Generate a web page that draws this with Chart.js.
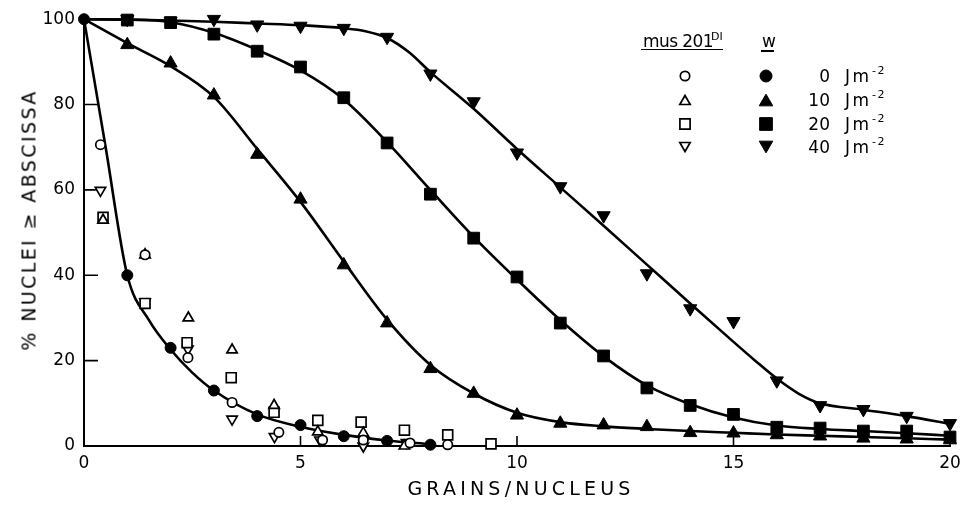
<!DOCTYPE html>
<html>
<head>
<meta charset="utf-8">
<script src="https://cdn.jsdelivr.net/npm/chart.js@4.4.1/dist/chart.umd.min.js"></script>
<style>
html,body{margin:0;padding:0;background:#fff;}
#wrap{position:relative;width:970px;height:505px;overflow:hidden;font-family:"DejaVu Sans",sans-serif;color:#000;}
#c{position:absolute;left:0;top:0;}
.t{position:absolute;white-space:nowrap;line-height:1;}
.ul{position:absolute;background:#000;height:1.6px;}
</style>
</head>
<body>
<div id="wrap">
  <canvas id="c" width="970" height="505"></canvas>
  <div class="t" id="ytitle" style="left:29px;top:220px;font-size:19px;letter-spacing:2.4px;transform:translate(-50%,-50%) rotate(-90deg);">% NUCLEI ≥ ABSCISSA</div>
  <div class="t" id="xtitle" style="left:521px;top:488px;font-size:19px;letter-spacing:4.2px;transform:translate(-50%,-50%);">GRAINS/NUCLEUS</div>

  <div class="t" style="left:643px;top:33px;font-size:17px;letter-spacing:-0.6px;">mus 201</div>
  <div class="t" style="left:711px;top:31px;font-size:11px;">DI</div>
  <div class="ul" style="left:641px;top:48.5px;width:82px;"></div>
  <div class="t" style="left:762px;top:33px;font-size:17px;">w</div>
  <div class="ul" style="left:761px;top:50px;width:13px;"></div>
  <div id="legendRows"></div>
</div>
<script>
// ---------------- data ----------------
const xTickValues = [0, 5, 10, 15, 20];
const yTickValues = [0, 20, 40, 60, 80, 100];

// w (wild type), filled symbols
const w0X  = [0, 1, 2, 3, 4, 5, 6, 7, 8];
const w0Y  = [100, 40, 23, 13, 7, 4.9, 2.3, 1.2, 0.3];
const wX   = [1, 2, 3, 4, 5, 6, 7, 8, 9, 10, 11, 12, 13, 14, 15, 16, 17, 18, 19, 20];
const w10Y = [94, 89.7, 82.2, 68.3, 57.8, 42.4, 28.8, 18.1, 12.3, 7.2, 5.3, 4.9, 4.5, 3.1, 3.0, 2.6, 2.3, 1.8, 1.6, 1.4];
const w20Y = [99.8, 99.2, 96.5, 92.5, 88.8, 81.6, 71, 59, 48.7, 39.6, 28.8, 21.1, 13.6, 9.5, 7.4, 4.4, 4.2, 3.5, 3.5, 2.1];
const w40Y = [100, 99.6, 100, 98.7, 98.4, 97.9, 95.8, 87.2, 80.7, 68.7, 60.8, 54, 40.4, 32.2, 29.2, 15.3, 9.5, 8.6, 7.0, 5.3];

// smooth curves drawn through each w series
const fit0X  = [0, 0.5, 1, 1.5, 2, 2.5, 3, 4, 5, 6, 7, 8];
const fit0Y  = [100, 70, 40, 29.5, 22.6, 17.2, 13, 7.4, 4.5, 2.6, 1.3, 0.4];
const fitX   = [0, 1, 2, 3, 4, 5, 6, 7, 8, 9, 10, 11, 12, 13, 14, 15, 16, 17, 18, 19, 20];
const fit10Y = [100, 94.4, 89.0, 81.8, 69.6, 57.2, 43.2, 29.6, 19.0, 12.3, 7.8, 5.6, 4.6, 4.0, 3.5, 3.1, 2.7, 2.4, 2.1, 1.8, 1.5];
const fit20Y = [100, 99.9, 99.3, 96.8, 92.8, 88, 81.2, 71.2, 60, 49, 39, 29.5, 21, 14.2, 9.8, 6.7, 4.8, 4.0, 3.5, 3.0, 2.4];
const fit40X = [0, 1, 2, 3, 4, 5, 6, 6.5, 7, 7.5, 8, 9, 10, 11, 12, 13, 14, 15, 15.5, 16, 16.5, 17, 18, 19, 20];
const fit40Y = [100, 99.9, 99.7, 99.4, 99.0, 98.6, 97.9, 97.2, 95.6, 92.3, 87.6, 79.0, 69.6, 60.6, 51.6, 42.5, 33.4, 24.4, 20.0, 15.8, 12.3, 10.0, 8.5, 7.0, 5.2];

// mus201^DI, open symbols
const m0X  = [0.38, 1.41, 2.4, 3.42, 4.5, 5.51, 6.45, 7.53, 8.4];
const m0Y  = [70.6, 44.8, 20.7, 10.2, 3.2, 1.4, 1.4, 0.7, 0.3];
const m10X = [0.44, 1.41, 2.41, 3.42, 4.39, 5.4, 6.45, 7.4];
const m10Y = [52.9, 44.8, 30, 22.5, 9.5, 3.3, 3.0, 0];
const m20X = [0.44, 1.41, 2.38, 3.4, 4.39, 5.4, 6.4, 7.4, 8.4, 9.4];
const m20Y = [53.6, 33.4, 24.2, 16.0, 7.9, 6.0, 5.6, 3.7, 2.6, 0.5];
const m40X = [0.38, 1.41, 2.4, 3.42, 4.4, 5.45, 6.45, 7.45];
const m40Y = [59.9, 33.8, 22.7, 6.3, 2.2, 1.4, 0.0, 0.8];

const doseLabels = ['0', '10', '20', '40'];

// ---------------- helpers ----------------
const pts = (xs, ys) => xs.map((x, i) => ({x: x, y: ys[i]}));

function filled(data, style, r, rot) {
  return {data, showLine: false, pointStyle: style, pointRadius: r, pointRotation: rot || 0,
    backgroundColor: '#000', borderColor: '#000', pointBorderWidth: 1, clip: false, order: 1};
}
function open(data, style, r, rot) {
  return {data, showLine: false, pointStyle: style, pointRadius: r, pointRotation: rot || 0,
    backgroundColor: '#fff', borderColor: '#000', pointBorderWidth: 1.7, clip: false, order: 2};
}
function curve(data) {
  return {data, showLine: true, pointRadius: 0, borderColor: '#000', borderWidth: 2.6,
    cubicInterpolationMode: 'monotone', fill: false, clip: false, order: 3};
}

const datasets = [
  filled(pts(w0X, w0Y), 'circle', 5.5),
  filled(pts(wX, w10Y), 'triangle', 7.6),
  filled(pts(wX, w20Y), 'rect', 8.3),
  filled(pts(wX, w40Y), 'triangle', 7.6, 180),
  open(pts(m0X, m0Y), 'circle', 4.7),
  open(pts(m10X, m10Y), 'triangle', 6),
  open(pts(m20X, m20Y), 'rect', 7),
  open(pts(m40X, m40Y), 'triangle', 6, 180),
  curve(pts(fit0X, fit0Y)),
  curve(pts(fitX, fit10Y)),
  curve(pts(fitX, fit20Y)),
  curve(pts(fit40X, fit40Y))
];

// inward tick marks
const innerTicks = {
  id: 'innerTicks',
  beforeDatasetsDraw(chart) {
    const {ctx, scales: {x, y}, chartArea: a} = chart;
    ctx.save();
    ctx.strokeStyle = '#000';
    ctx.lineWidth = 1.6;
    ctx.beginPath();
    yTickValues.forEach(v => { const p = y.getPixelForValue(v); ctx.moveTo(a.left, p); ctx.lineTo(a.left + 14, p); });
    xTickValues.forEach(v => { const p = x.getPixelForValue(v); ctx.moveTo(p, a.bottom); ctx.lineTo(p, a.bottom - 10); });
    ctx.stroke();
    ctx.restore();
  }
};

function sym(ctx, shape, x, y, r, isFilled) {
  ctx.beginPath();
  if (shape === 'circle') ctx.arc(x, y, r, 0, Math.PI * 2);
  else if (shape === 'rect') { const s = r * Math.SQRT1_2; ctx.rect(x - s, y - s, 2 * s, 2 * s); }
  else {
    const d = shape === 'tri' ? 1 : -1;
    const cy = y + d * r / 4;
    ctx.moveTo(x, cy - d * r);
    ctx.lineTo(x + r * 0.866, cy + d * r / 2);
    ctx.lineTo(x - r * 0.866, cy + d * r / 2);
    ctx.closePath();
  }
  ctx.fillStyle = isFilled ? '#000' : '#fff';
  ctx.fill();
  ctx.lineWidth = isFilled ? 1 : 1.7;
  ctx.strokeStyle = '#000';
  ctx.stroke();
}

const legendRowsY = [76, 100, 124, 147];
const legendShapes = ['circle', 'tri', 'rect', 'inv'];
const legendSymbols = {
  id: 'legendSymbols',
  afterDraw(chart) {
    const ctx = chart.ctx;
    ctx.save();
    legendRowsY.forEach((y, i) => {
      const s = legendShapes[i];
      const ro = s === 'circle' ? 4.7 : s === 'rect' ? 7.2 : 6;
      const rf = s === 'circle' ? 6 : s === 'rect' ? 9 : 7.8;
      sym(ctx, s, 685, y, ro, false);
      sym(ctx, s, 766, y, rf, true);
    });
    ctx.restore();
  }
};

// legend texts (real text)
const rowsDiv = document.getElementById('legendRows');
legendRowsY.forEach((cy, i) => {
  rowsDiv.insertAdjacentHTML('beforeend',
    '<div class="t" style="left:790px;width:40px;text-align:right;top:' + (cy - 8.2) + 'px;font-size:17px;">' + doseLabels[i] + '</div>' +
    '<div class="t" style="left:845px;top:' + (cy - 8.2) + 'px;font-size:17px;letter-spacing:2.5px;">Jm</div>' +
    '<div class="t" style="left:872px;top:' + (cy - 11.5) + 'px;font-size:11px;letter-spacing:1.5px;">-2</div>');
});

const tickFont = {family: 'DejaVu Sans', size: 17};

new Chart(document.getElementById('c'), {
  type: 'scatter',
  data: {datasets},
  options: {
    responsive: false,
    animation: false,
    devicePixelRatio: 1,
    events: [],
    layout: {padding: {top: 15, right: 20, left: 0, bottom: 0}},
    plugins: {legend: {display: false}, tooltip: {enabled: false}},
    scales: {
      x: {
        type: 'linear', min: 0, max: 20,
        afterBuildTicks: s => { s.ticks = xTickValues.map(v => ({value: v})); },
        ticks: {color: '#000', font: tickFont, padding: 7},
        grid: {display: false, drawTicks: false},
        border: {display: true, color: '#000', width: 2},
        afterFit: s => { s.height = 59; }
      },
      y: {
        type: 'linear', min: 0, max: 100,
        afterBuildTicks: s => { s.ticks = yTickValues.map(v => ({value: v})); },
        ticks: {color: '#000', font: tickFont, padding: 9},
        grid: {display: false, drawTicks: false},
        border: {display: true, color: '#000', width: 2},
        afterFit: s => { s.width = 84; }
      }
    }
  },
  plugins: [innerTicks, legendSymbols]
});
</script>
</body>
</html>
